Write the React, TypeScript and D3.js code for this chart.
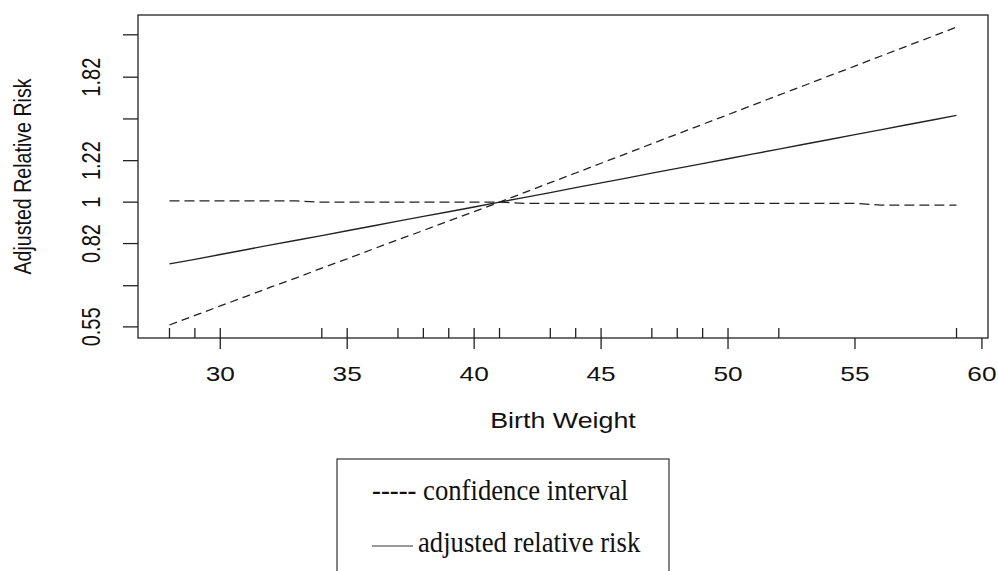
import * as d3 from 'd3';
import React from 'react';

// values
const birthWeight = [
  28, 29, 30, 31, 32, 33, 34, 35, 36, 37, 38, 39, 40, 41, 42, 43,
  44, 45, 46, 47, 48, 49, 50, 51, 52, 53, 54, 55, 56, 57, 58, 59,
];
const adjustedRR = [
  0.744, 0.76, 0.778, 0.796, 0.815, 0.833, 0.852, 0.872, 0.892, 0.913, 0.934, 0.955, 0.977, 1.0, 1.023, 1.047,
  1.072, 1.097, 1.122, 1.149, 1.176, 1.203, 1.231, 1.26, 1.289, 1.32, 1.35, 1.382, 1.414, 1.447, 1.481, 1.516,
];
const ciSteep = [
  0.555, 0.581, 0.608, 0.636, 0.666, 0.696, 0.729, 0.762, 0.798, 0.835, 0.873, 0.914, 0.956, 1.0, 1.048, 1.098,
  1.15, 1.205, 1.262, 1.323, 1.386, 1.452, 1.521, 1.594, 1.67, 1.749, 1.833, 1.92, 2.012, 2.108, 2.208, 2.314,
];
const ciFlat = [
  1.006, 1.006, 1.006, 1.006, 1.006, 1.006, 1.0, 1.0, 1.0, 1.0, 1.0, 1.0, 1.0, 1.0, 0.994, 0.994,
  0.994, 0.994, 0.994, 0.994, 0.994, 0.994, 0.994, 0.994, 0.994, 0.994, 0.994, 0.994, 0.986, 0.986, 0.986, 0.986,
];
const rugWeights = [28, 29, 30, 34, 35, 37, 38, 39, 40, 41, 43, 44, 45, 47, 48, 49, 50, 52, 59];
const xTicks = [30, 35, 40, 45, 50, 55, 60];
const yTicks = [0.55, 0.67, 0.82, 1, 1.22, 1.49, 1.82, 2.23];
const yTickLabels = ['0.55', '', '0.82', '1', '1.22', '', '1.82', ''];

const width = 998;
const height = 571;
const plot = { left: 138, right: 988, top: 15, bottom: 338 };
const stretch = 1.25; // the picture is wider than tall in its text
const sans = "'Liberation Sans', Arial, Helvetica, sans-serif";
const serif = "'Liberation Serif', 'Times New Roman', serif";
const ink = '#222';

const App = () => {
  const x = d3.scaleLinear().domain([26.76, 60.24]).range([plot.left, plot.right]);
  const y = d3.scaleLog().domain([0.5215, 2.452]).range([plot.bottom, plot.top]);

  const line = (vals: number[]) =>
    d3
      .line<number>()
      .x((_, i) => x(birthWeight[i]))
      .y((d) => y(d))(vals) || '';

  return (
    <svg
      width={width}
      height={height}
      style={{ position: 'absolute', left: 0, top: 0, background: 'white' }}
    >
      <rect
        x={plot.left}
        y={plot.top}
        width={plot.right - plot.left}
        height={plot.bottom - plot.top}
        fill="none"
        stroke={ink}
        strokeWidth={1.3}
      />

      {/* y axis */}
      {yTicks.map((t, i) => (
        <g key={'y' + t}>
          <line x1={plot.left - 15} x2={plot.left} y1={y(t)} y2={y(t)} stroke={ink} strokeWidth={1.3} />
          {yTickLabels[i] && (
            <g transform={`translate(100, ${y(t)}) scale(${stretch}, 1) rotate(-90)`}>
              <text textAnchor="middle" fontFamily={sans} fontSize={20} fill="#111">
                {yTickLabels[i]}
              </text>
            </g>
          )}
        </g>
      ))}
      <g transform={`translate(31, ${(plot.top + plot.bottom) / 2}) scale(${stretch}, 1) rotate(-90)`}>
        <text textAnchor="middle" fontFamily={sans} fontSize={19.6} fill="#111">
          Adjusted Relative Risk
        </text>
      </g>

      {/* x axis */}
      {xTicks.map((t) => (
        <g key={'x' + t}>
          <line x1={x(t)} x2={x(t)} y1={plot.bottom} y2={plot.bottom + 11} stroke={ink} strokeWidth={1.3} />
          <g transform={`translate(${x(t)}, 381) scale(${stretch}, 1)`}>
            <text textAnchor="middle" fontFamily={sans} fontSize={21} fill="#111">
              {t}
            </text>
          </g>
        </g>
      ))}
      {rugWeights.map((r) => (
        <line key={'r' + r} x1={x(r)} x2={x(r)} y1={plot.bottom} y2={plot.bottom - 10} stroke={ink} strokeWidth={1.3} />
      ))}
      <g transform={`translate(${(plot.left + plot.right) / 2}, 428) scale(1.22, 1)`}>
        <text textAnchor="middle" fontFamily={sans} fontSize={22} fill="#111">
          Birth Weight
        </text>
      </g>

      {/* curves */}
      <path d={line(ciSteep)} fill="none" stroke={ink} strokeWidth={1.3} strokeDasharray="8,5" />
      <path d={line(ciFlat)} fill="none" stroke={ink} strokeWidth={1.3} strokeDasharray="10,5" />
      <path d={line(adjustedRR)} fill="none" stroke={ink} strokeWidth={1.4} />

      {/* legend */}
      <rect x={337} y={459} width={332} height={130} fill="white" stroke="#333" strokeWidth={1.2} />
      <g transform="translate(372, 500) scale(0.92, 1)">
        <text fontFamily={serif} fontSize={29} fill="#111">
          ----- confidence interval
        </text>
      </g>
      <line x1={372} x2={413} y1={546} y2={546} stroke="#333" strokeWidth={1} />
      <g transform="translate(418, 552) scale(0.92, 1)">
        <text fontFamily={serif} fontSize={29} fill="#111">
          adjusted relative risk
        </text>
      </g>
    </svg>
  );
};

export default App;
